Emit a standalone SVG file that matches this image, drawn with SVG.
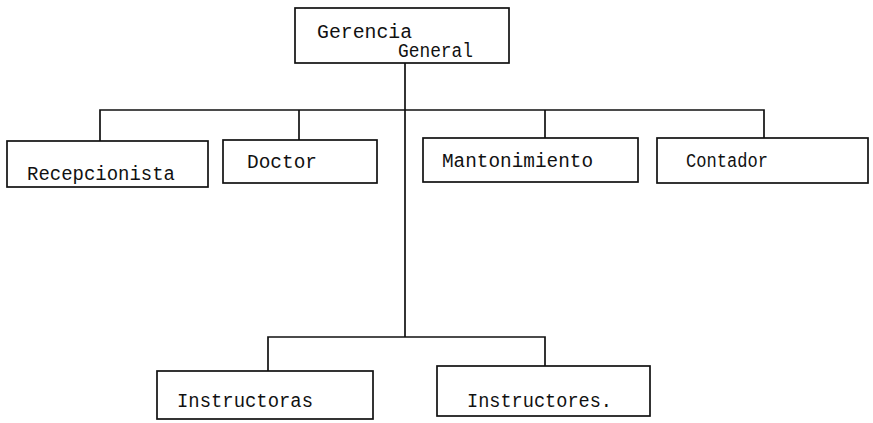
<svg xmlns="http://www.w3.org/2000/svg" width="873" height="423" viewBox="0 0 873 423">
<style>
.box{fill:none;stroke:#111;stroke-width:1.7}
.ln{fill:none;stroke:#111;stroke-width:1.7}
.t{font-family:"Liberation Mono","DejaVu Sans Mono",monospace;font-size:20px;fill:#111}
</style>
<rect width="873" height="423" fill="#fff"/>
<g id="connectors">
<path class="ln" d="M405,63 V337"/>
<path class="ln" d="M100,141 V110 H764 V138"/>
<path class="ln" d="M299,110 V140"/>
<path class="ln" d="M545,110 V138"/>
<path class="ln" d="M268,371 V337 H545 V366"/>
</g>
<g id="gerencia">
<rect class="box" x="295" y="8" width="214" height="55"/>
<text class="t" x="317" y="38" textLength="95" lengthAdjust="spacingAndGlyphs">Gerencia</text>
<text class="t" x="398" y="57" textLength="75" lengthAdjust="spacingAndGlyphs">General</text>
</g>
<g id="recepcionista">
<rect class="box" x="7" y="141" width="201" height="46"/>
<text class="t" x="27" y="180" textLength="148" lengthAdjust="spacingAndGlyphs">Recepcionista</text>
</g>
<g id="doctor">
<rect class="box" x="223" y="140" width="154" height="43"/>
<text class="t" x="247" y="168" textLength="70" lengthAdjust="spacingAndGlyphs">Doctor</text>
</g>
<g id="mantenimiento">
<rect class="box" x="423" y="138" width="215" height="44"/>
<text class="t" x="442" y="167" textLength="151" lengthAdjust="spacingAndGlyphs">Mantonimiento</text>
</g>
<g id="contador">
<rect class="box" x="657" y="138" width="211" height="45"/>
<text class="t" x="686" y="167" textLength="82" lengthAdjust="spacingAndGlyphs">Contador</text>
</g>
<g id="instructoras">
<rect class="box" x="157" y="371" width="216" height="48"/>
<text class="t" x="177" y="407" textLength="136" lengthAdjust="spacingAndGlyphs">Instructoras</text>
</g>
<g id="instructores">
<rect class="box" x="437" y="366" width="213" height="50"/>
<text class="t" x="467" y="407" textLength="145" lengthAdjust="spacingAndGlyphs">Instructores.</text>
</g>
</svg>
